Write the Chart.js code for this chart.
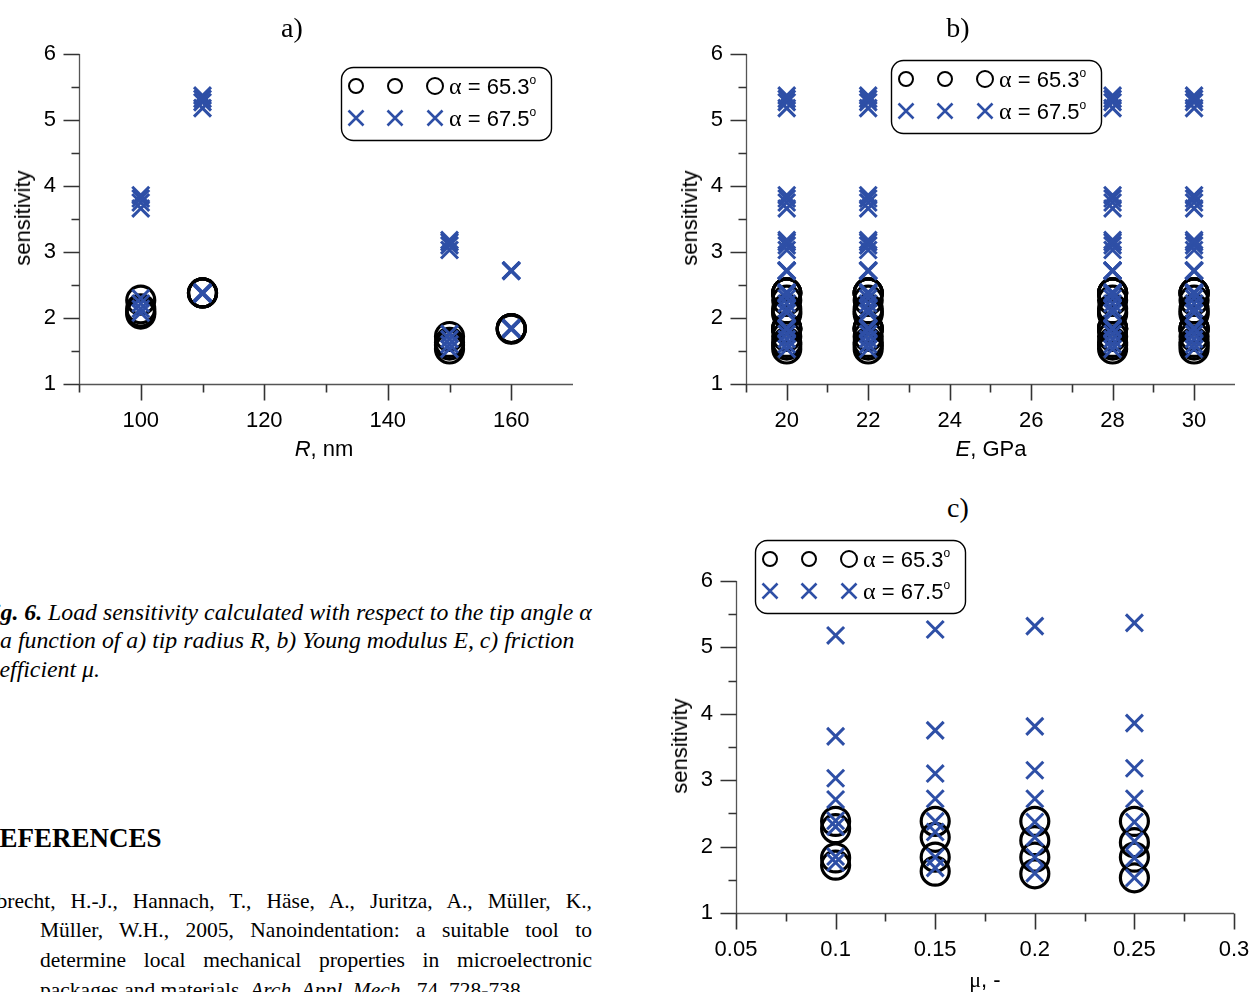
<!DOCTYPE html>
<html lang="en">
<head>
<meta charset="UTF-8">
<title>Fig. 6 - Load sensitivity</title>
<script src="https://cdn.jsdelivr.net/npm/chart.js@4.4.0/dist/chart.umd.min.js"></script>
<style>
  html, body { margin: 0; padding: 0; background: #fff; }
  body { width: 1252px; height: 992px; position: relative; overflow: hidden; }
  canvas { position: absolute; }
  .txt { position: absolute; white-space: nowrap; color: #000; }
  .sans { font-family: "Liberation Sans", Arial, sans-serif; font-size: 22px; }
  .serif { font-family: "Liberation Serif", "Times New Roman", serif; }
  .mid { transform: translate(-50%, -50%); }
  .rot { transform: translate(-50%, -50%) rotate(-90deg); }
  .cap { font-size: 23.8px; line-height: 28px; font-style: italic; }
  .just { position: absolute; white-space: normal; text-align: justify; text-align-last: justify; }
  svg.overlay { position: absolute; left: 0; top: 0; }
</style>
</head>
<body>

<canvas id="chartA"></canvas>
<canvas id="chartB"></canvas>
<canvas id="chartC"></canvas>

<!-- panel titles and axis titles -->
<div class="txt serif mid" style="left:292px;top:28px;font-size:28px">a)</div>
<div class="txt serif mid" style="left:958px;top:28px;font-size:28px">b)</div>
<div class="txt serif mid" style="left:958px;top:508px;font-size:28px">c)</div>

<div class="txt sans rot" style="left:23px;top:218px">sensitivity</div>
<div class="txt sans rot" style="left:690px;top:218px">sensitivity</div>
<div class="txt sans rot" style="left:680px;top:746px">sensitivity</div>

<div class="txt sans mid" style="left:324px;top:449px"><i>R</i>, nm</div>
<div class="txt sans mid" style="left:991px;top:449px"><i>E</i>, GPa</div>
<div class="txt sans mid" style="left:985px;top:980px"><span class="serif">μ</span>, -</div>

<!-- caption -->
<div class="txt serif cap" style="left:-22px;top:598px"><b>Fig. 6.</b> Load sensitivity calculated with respect to the tip angle α</div>
<div class="txt serif cap" style="left:-27px;top:626px">as a function of a) tip radius R, b) Young modulus E, c) friction</div>
<div class="txt serif cap" style="left:-23px;top:655px">coefficient μ.</div>

<div class="txt serif" style="left:-20px;top:821px;font-size:27px;line-height:34px;font-weight:bold">REFERENCES</div>

<div class="just serif" style="left:-25px;width:617px;top:887px;font-size:21.5px;line-height:28px">Albrecht, H.-J., Hannach, T., Häse, A., Juritza, A., Müller, K.,</div>
<div class="just serif" style="left:40px;width:552px;top:916px;font-size:21.5px;line-height:28px">Müller, W.H., 2005, Nanoindentation: a suitable tool to</div>
<div class="just serif" style="left:40px;width:552px;top:946px;font-size:21.5px;line-height:28px">determine local mechanical properties in microelectronic</div>
<div class="txt serif" style="left:40px;top:976px;font-size:21.5px;line-height:28px">packages and materials, <i>Arch. Appl. Mech.</i>, 74, 728-738.</div>

<svg class="overlay" id="legends" width="1252" height="992"></svg>

<script>
// tip radius R [nm], Young modulus E [GPa], friction coefficient mu
var radii = [100, 110, 150, 160];
var moduli = [20, 22, 28, 30];
var frictions = [0.1, 0.15, 0.2, 0.25];

// alpha = 65.3 deg (circles), rows follow radii, columns follow frictions
var sens653 = [
    [2.27, 2.14, 2.09, 2.06],
    [2.38, 2.38, 2.38, 2.38],
    [1.72, 1.63, 1.59, 1.53],
    [1.83, 1.84, 1.84, 1.84]
];

// alpha = 67.5 deg (crosses), upper branch
var sens675High = [
    [3.66, 3.75, 3.81, 3.86],
    [5.18, 5.27, 5.32, 5.37],
    [3.03, 3.10, 3.15, 3.18],
    [2.71, 2.72, 2.72, 2.72]
];

// alpha = 67.5 deg (crosses), lower branch, lying inside the circles
var sens675Low = [
    [2.30, 2.22, 2.14, 2.08],
    [2.39, 2.38, 2.37, 2.37],
    [1.76, 1.68, 1.60, 1.53],
    [1.85, 1.84, 1.84, 1.83]
];

// axis ticks
var yTicks = [1, 2, 3, 4, 5, 6];
var yMinor = [1.5, 2.5, 3.5, 4.5, 5.5];
var aTicks = [100, 120, 140, 160];
var aMinor = [90, 110, 130, 150];
var bTicks = [20, 22, 24, 26, 28, 30];
var bMinor = [19, 21, 23, 25, 27, 29];
var cTicks = [0.05, 0.1, 0.15, 0.2, 0.25, 0.3];
var cMinor = [0.075, 0.125, 0.175, 0.225, 0.275];

var blue = '#2e4fa6';
var sans = '"Liberation Sans", Arial, sans-serif';

function collect(table, xOf) {
    var pts = [];
    for (var i = 0; i < radii.length; i++) {
        for (var j = 0; j < frictions.length; j++) {
            pts.push({ x: xOf(i, j), y: table[i][j] });
        }
    }
    return pts;
}

// axis lines with long major and short minor ticks, outside the plot
var axesLines = {
    id: 'axesLines',
    beforeDatasetsDraw: function (chart, args, o) {
        var ctx = chart.ctx, a = chart.chartArea;
        var sx = chart.scales.x, sy = chart.scales.y;
        var L = Math.round(a.left) + 0.5, B = Math.round(a.bottom) + 0.5;
        ctx.save();
        ctx.strokeStyle = '#555';
        ctx.lineWidth = 1.3;
        ctx.beginPath();
        ctx.moveTo(L, Math.round(a.top));
        ctx.lineTo(L, B);
        ctx.lineTo(Math.round(a.right), B);
        ctx.stroke();

        ctx.strokeStyle = '#333';
        ctx.lineWidth = 1.6;
        ctx.beginPath();
        function xt(v, len) {
            var p = Math.round(sx.getPixelForValue(v)) + 0.5;
            ctx.moveTo(p, B); ctx.lineTo(p, B + len);
        }
        function yt(v, len) {
            var p = Math.round(sy.getPixelForValue(v)) + 0.5;
            ctx.moveTo(L, p); ctx.lineTo(L - len, p);
        }
        o.xMajor.forEach(function (v) { xt(v, 16); });
        o.xMinor.forEach(function (v) { xt(v, 8); });
        yTicks.forEach(function (v) { yt(v, 16); });
        yMinor.forEach(function (v) { yt(v, 8); });
        ctx.stroke();
        ctx.restore();
    }
};

function makeChart(id, box, area, xr, circles, crosses) {
    var cv = document.getElementById(id);
    cv.width = box.w;
    cv.height = box.h;
    cv.style.left = box.x + 'px';
    cv.style.top = box.y + 'px';

    new Chart(cv, {
        type: 'scatter',
        data: {
            datasets: [
                {
                    label: 'α = 67.5°',
                    data: crosses,
                    pointStyle: 'crossRot',
                    pointRadius: 12,
                    pointBorderWidth: 3,
                    pointBorderColor: blue,
                    pointBackgroundColor: blue,
                    order: 0
                },
                {
                    label: 'α = 65.3°',
                    data: circles,
                    pointStyle: 'circle',
                    pointRadius: 14,
                    pointBorderWidth: 3.2,
                    pointBorderColor: '#000',
                    pointBackgroundColor: 'rgba(0,0,0,0)',
                    order: 1
                }
            ]
        },
        options: {
            responsive: false,
            animation: false,
            events: [],
            layout: {
                padding: {
                    left: 0,
                    top: area.top - box.y,
                    right: box.x + box.w - area.right,
                    bottom: 0
                }
            },
            plugins: {
                legend: { display: false },
                tooltip: { enabled: false },
                axesLines: { xMajor: xr.ticks, xMinor: xr.minor }
            },
            scales: {
                x: {
                    type: 'linear',
                    min: xr.min,
                    max: xr.max,
                    afterBuildTicks: function (s) {
                        s.ticks = xr.ticks.map(function (v) { return { value: v }; });
                    },
                    afterFit: function (s) {
                        s.height = box.y + box.h - area.bottom;
                        s.paddingLeft = 0;
                        s.paddingRight = 0;
                    },
                    ticks: {
                        autoSkip: false,
                        maxRotation: 0,
                        padding: 8,
                        color: '#000',
                        font: { family: sans, size: 22 },
                        callback: function (v) { return String(parseFloat(v.toFixed(3))); }
                    },
                    grid: { display: false, drawTicks: true, tickLength: 16 },
                    border: { display: false }
                },
                y: {
                    min: 1,
                    max: 6,
                    afterBuildTicks: function (s) {
                        s.ticks = yTicks.map(function (v) { return { value: v }; });
                    },
                    afterFit: function (s) {
                        s.width = area.left - box.x;
                        s.paddingTop = 0;
                        s.paddingBottom = 0;
                    },
                    ticks: {
                        padding: 7,
                        color: '#000',
                        font: { family: sans, size: 22 }
                    },
                    grid: { display: false, drawTicks: true, tickLength: 16 },
                    border: { display: false }
                }
            }
        },
        plugins: [axesLines]
    });
}

// a) sensitivity against tip radius
makeChart('chartA',
    { x: 0, y: 30, w: 610, h: 440 },
    { left: 79, top: 54, right: 573, bottom: 384 },
    { min: 90, max: 170, ticks: aTicks, minor: aMinor },
    collect(sens653, function (i) { return radii[i]; }),
    collect(sens675High, function (i) { return radii[i]; })
        .concat(collect(sens675Low, function (i) { return radii[i]; })));

// b) sensitivity against Young modulus
var bCircles = [], bCrosses = [];
moduli.forEach(function (E) {
    var atE = function () { return E; };
    bCircles = bCircles.concat(collect(sens653, atE));
    bCrosses = bCrosses.concat(collect(sens675High, atE), collect(sens675Low, atE));
});
makeChart('chartB',
    { x: 660, y: 30, w: 592, h: 440 },
    { left: 746, top: 54, right: 1240, bottom: 384 },
    { min: 19, max: 31, ticks: bTicks, minor: bMinor },
    bCircles, bCrosses);

// c) sensitivity against friction coefficient
makeChart('chartC',
    { x: 660, y: 556, w: 592, h: 436 },
    { left: 736, top: 581, right: 1234, bottom: 913 },
    { min: 0.05, max: 0.3, ticks: cTicks, minor: cMinor },
    collect(sens653, function (i, j) { return frictions[j]; }),
    collect(sens675High, function (i, j) { return frictions[j]; })
        .concat(collect(sens675Low, function (i, j) { return frictions[j]; })));

// legends in the Origin style: three symbols per row, then the label
var NS = 'http://www.w3.org/2000/svg';
var svg = document.getElementById('legends');
function el(name, attrs, parent) {
    var e = document.createElementNS(NS, name);
    for (var k in attrs) e.setAttribute(k, attrs[k]);
    (parent || svg).appendChild(e);
    return e;
}
function legendRow(bx, y, isCross, text) {
    var xs = [bx + 15, bx + 54, bx + 94];
    xs.forEach(function (x, k) {
        if (isCross) {
            var h = 7.5;
            el('path', { d: 'M' + (x - h) + ' ' + (y - h) + 'L' + (x + h) + ' ' + (y + h) +
                'M' + (x - h) + ' ' + (y + h) + 'L' + (x + h) + ' ' + (y - h),
                stroke: blue, 'stroke-width': 2.6, fill: 'none' });
        } else {
            el('circle', { cx: x, cy: y, r: k === 2 ? 8 : 7, stroke: '#000', 'stroke-width': 2, fill: 'none' });
        }
    });
    var t = el('text', { x: bx + 108, y: y + 8, 'font-family': sans, 'font-size': 22, fill: '#000' });
    var a = el('tspan', { 'font-family': '"Liberation Serif", serif', 'font-size': 24 }, t);
    a.textContent = 'α';
    var v = el('tspan', {}, t);
    v.textContent = ' = ' + text;
    var o = el('tspan', { 'font-size': 12, dy: -10 }, t);
    o.textContent = 'o';
}
function legend(bx, by) {
    el('rect', { x: bx + 0.5, y: by + 0.5, width: 210, height: 73, rx: 12, ry: 12,
        fill: '#fff', stroke: '#000', 'stroke-width': 1.4 });
    legendRow(bx, by + 19, false, '65.3');
    legendRow(bx, by + 51, true, '67.5');
}
legend(341, 67);
legend(891, 60);
legend(755, 540);
</script>
</body>
</html>
